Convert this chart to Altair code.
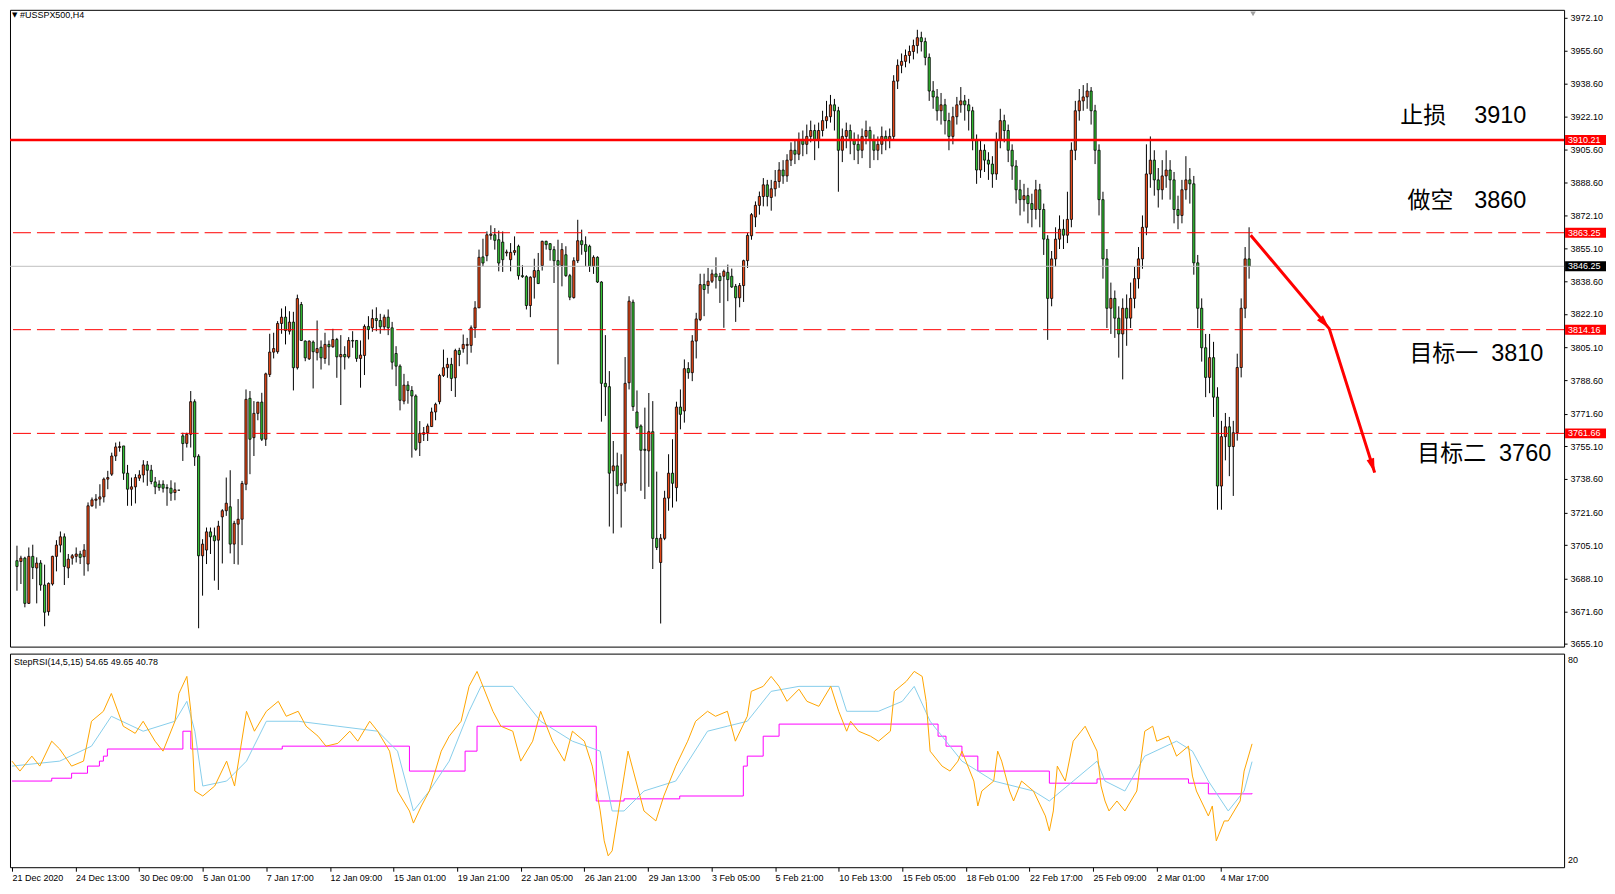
import math
import altair as alt
import pandas as pd

symbol_title = "#USSPX500,H4"
indicator_title = "StepRSI(14,5,15) 54.65 49.65 40.78"

# ---------------- candles (H4 bars, index 0 = 21 Dec 2020) ----------------
opens_a = [3697.2,3696.8,3698.5,3675.6,3699.4,3693.5,3696.0,3684.9,3671.4,3685.4,
3699.4,3705.1,3709.3,3693.5,3698.5,3699.4,3700.6,3699.2,3695.5,3725.0,
3727.8,3728.4,3729.5,3738.5,3741.0,3750.2,3754.5,3755.3,3741.5,3733.4,
3734.6,3739.0,3740.6,3745.7,3743.0,3737.1,3735.9,3735.9,3734.2,3733.9,
3731.7,3732.9,3760.4,3756.6,3761.2,3777.7,3750.1,3699.7,3702.6,3711.8,
3709.8,3707.6,3719.4,3722.5,3724.5,3705.6,3715.7,3718.2,3735.9,3779.4,
3759.5,3771.8,3777.5,3758.7,3791.5,3802.8,3803.0,3817.3,3820.5,3813.4,
3818.0,3794.9,3826.9,3808.4,3799.4,3807.9,3802.5,3805.3,3799.6,3806.7,
3805.5,3809.2,3800.4,3801.6,3800.4,3808.7,3808.7,3799.6,3801.1,3815.8,
3815.1,3819.8,3818.8,3815.6,3820.5,3815.1,3802.1,3795.7,3778.0,3786.1,
3783.4,3780.6,3757.0,3761.2,3762.0,3765.1,3772.5,3777.7,3791.0,3794.9,
3796.6,3789.8,3803.6,3804.5,3806.2,3806.2,3815.1,3825.2,3851.0,3851.6,
3861.9,3862.2,3859.7,3858.5,3853.0,3849.6,3853.3,3856.4,3841.5,3841.0,
3826.4,3840.7,3844.1,3846.6,3858.9,3857.7,3854.7,3849.1,3846.6,3852.1,
3841.5,3830.4,3849.1,3859.2,3857.2,3856.4,3846.3,3850.8,3838.3,3787.0,
3785.3,3742.7,3745.2,3735.4,3736.4,3787.3,3828.1,3772.5,3765.4,3753.6,
3752.8,3762.5,3708.5,3696.3,3708.5,3728.9,3741.5,3734.2,3775.0,3773.0,
3794.5,3792.4,3808.4,3819.3,3837.0,3836.5,3838.7,3842.4,3841.2,3841.2,
3843.2,3841.2,3836.1,3830.3,3836.5,3849.1,3861.7,3871.2,3877.1,3881.6,
3887.5,3881.1,3885.5]
closes_a = [3694.3,3698.5,3675.6,3699.4,3693.8,3696.0,3684.9,3671.1,3685.7,3699.4,
3705.1,3709.3,3694.3,3698.0,3699.7,3700.6,3698.9,3702.6,3725.0,3728.0,
3728.4,3729.5,3738.5,3739.3,3750.2,3754.8,3755.0,3741.5,3733.4,3734.6,
3739.3,3740.6,3745.7,3743.0,3737.3,3734.6,3734.2,3733.9,3733.9,3731.4,
3733.1,3732.9,3756.5,3761.2,3777.7,3749.7,3699.7,3705.6,3711.8,3709.3,
3707.3,3714.7,3722.5,3726.3,3705.6,3716.1,3718.2,3736.3,3778.9,3758.7,
3771.8,3777.5,3758.7,3791.8,3802.8,3804.6,3817.3,3820.5,3813.7,3818.0,
3794.9,3829.9,3808.7,3799.9,3808.4,3803.0,3804.6,3799.9,3806.7,3805.5,
3809.2,3800.4,3801.6,3800.4,3808.7,3808.4,3799.6,3801.3,3815.8,3814.2,
3819.8,3818.8,3815.6,3820.5,3815.1,3797.7,3795.7,3778.4,3786.1,3783.4,
3780.6,3753.6,3761.7,3762.0,3765.4,3772.5,3776.4,3791.0,3794.9,3796.6,
3789.5,3803.6,3801.6,3806.7,3806.7,3815.1,3825.2,3850.8,3847.9,3862.2,
3862.6,3859.4,3847.9,3849.6,3853.5,3853.3,3854.2,3841.5,3841.0,3826.4,
3840.7,3844.1,3837.5,3858.9,3857.2,3854.7,3849.1,3846.8,3854.7,3841.5,
3830.6,3849.1,3859.2,3857.2,3853.8,3846.3,3850.8,3838.3,3787.0,3785.3,
3741.5,3745.2,3735.1,3736.4,3787.0,3828.6,3775.2,3764.6,3753.1,3753.1,
3762.5,3708.5,3703.9,3708.6,3728.9,3741.5,3736.4,3775.0,3771.3,3794.4,
3792.4,3808.4,3819.6,3837.0,3834.5,3838.7,3842.4,3840.9,3839.0,3843.7,
3839.5,3835.8,3830.3,3836.5,3849.1,3861.9,3872.4,3877.1,3881.6,3887.5,
3881.6,3885.5,3889.2]
highs_a = [3704.8,3699.7,3699.2,3703.9,3705.3,3698.9,3697.5,3695.2,3686.2,3699.7,
3707.6,3712.0,3711.0,3700.6,3700.6,3703.9,3702.2,3705.6,3726.7,3729.2,
3730.9,3735.9,3739.3,3742.7,3751.9,3757.0,3757.5,3755.3,3745.7,3739.3,
3741.0,3743.0,3748.1,3747.7,3745.7,3739.6,3737.9,3737.9,3735.9,3737.9,
3736.8,3732.9,3762.0,3762.0,3783.1,3778.9,3751.1,3708.1,3714.0,3714.0,
3714.0,3717.4,3723.3,3739.3,3743.0,3717.4,3728.4,3737.6,3783.9,3783.1,
3778.0,3777.5,3782.2,3792.4,3812.1,3812.6,3818.5,3824.9,3826.0,3823.5,
3823.2,3831.9,3828.2,3808.7,3808.7,3808.7,3818.8,3808.7,3812.6,3808.7,
3814.6,3810.0,3811.4,3805.8,3810.4,3813.4,3808.7,3808.7,3816.8,3821.0,
3824.4,3825.5,3822.2,3821.8,3824.4,3818.1,3805.8,3796.6,3791.8,3788.1,
3785.6,3781.4,3767.9,3764.9,3766.6,3774.7,3777.2,3791.8,3804.1,3799.9,
3799.9,3804.5,3805.0,3811.7,3810.0,3816.3,3828.6,3854.7,3860.2,3863.9,
3867.0,3865.6,3864.3,3863.9,3854.7,3858.0,3861.4,3857.2,3846.8,3841.7,
3841.2,3850.1,3853.0,3859.2,3859.2,3858.0,3856.4,3859.7,3858.0,3856.4,
3842.4,3850.8,3869.8,3864.8,3861.4,3857.2,3851.8,3851.3,3838.7,3811.4,
3793.2,3757.8,3751.9,3751.1,3800.3,3831.1,3829.4,3783.4,3766.2,3774.7,
3782.1,3778.0,3742.3,3710.7,3732.6,3751.1,3758.7,3777.7,3783.9,3799.1,
3797.7,3811.4,3822.7,3842.5,3842.5,3845.4,3844.6,3850.8,3842.9,3844.6,
3847.1,3845.1,3837.3,3837.8,3849.6,3863.1,3873.2,3879.1,3884.1,3890.9,
3890.0,3890.0,3895.0]
lows_a = [3682.0,3685.4,3673.6,3675.3,3687.9,3675.6,3682.0,3664.0,3669.4,3684.6,
3691.8,3701.4,3684.9,3688.4,3695.2,3696.3,3695.5,3689.6,3691.8,3724.5,
3723.6,3725.0,3726.7,3733.4,3740.1,3747.7,3752.4,3738.1,3725.0,3725.0,
3726.2,3737.6,3736.8,3735.1,3735.9,3730.9,3732.6,3731.7,3725.0,3727.5,
3727.8,3732.9,3747.7,3754.5,3754.5,3745.2,3663.0,3679.5,3695.5,3700.6,
3687.1,3682.4,3695.8,3719.9,3700.9,3695.5,3695.2,3705.1,3732.9,3741.0,
3750.2,3768.3,3757.8,3755.3,3790.2,3799.6,3802.0,3812.1,3806.7,3811.7,
3783.4,3794.0,3808.4,3798.2,3798.8,3784.4,3798.6,3794.0,3796.9,3796.1,
3805.0,3789.8,3776.0,3794.0,3799.6,3805.0,3797.9,3784.8,3791.2,3809.2,
3813.1,3813.4,3812.1,3813.9,3811.4,3794.0,3785.6,3773.3,3776.4,3776.7,
3749.4,3752.8,3750.2,3757.8,3757.8,3764.9,3768.3,3776.4,3790.2,3789.8,
3783.1,3780.1,3795.7,3802.5,3796.6,3802.5,3810.0,3825.2,3846.3,3848.8,
3859.7,3854.7,3843.7,3843.4,3851.3,3843.7,3851.8,3839.5,3840.4,3824.4,
3820.5,3829.9,3837.3,3844.1,3854.7,3849.1,3837.8,3796.6,3836.1,3840.9,
3829.1,3829.9,3847.9,3852.1,3846.3,3843.4,3842.4,3837.8,3767.6,3770.5,
3714.5,3711.0,3730.9,3714.0,3732.2,3783.9,3773.0,3763.7,3732.6,3728.4,
3734.6,3693.0,3702.6,3665.4,3707.6,3722.5,3724.1,3727.2,3763.7,3767.1,
3789.3,3788.1,3799.6,3818.5,3821.0,3832.4,3837.8,3835.0,3827.7,3815.1,
3828.6,3835.3,3818.1,3825.5,3828.2,3845.4,3859.7,3866.1,3872.4,3876.6,
3876.6,3874.4,3881.6]

# bars 193..312 (5 Feb 21:00 .. 5 Mar)
closes_b = [3895,3892,3900,3905,3903,3910,3908,3912,3915,3910,
3915,3920,3922,3928,3925,3905,3912,3915,3910,3908,
3905,3912,3915,3910,3905,3908,3912,3910,3912,3940,
3948,3950,3953,3955,3958,3962,3960,3952,3935,3932,
3925,3928,3920,3912,3922,3928,3930,3928,3925,3910,
3895,3905,3900,3898,3893,3910,3920,3915,3905,3897,
3885,3880,3882,3878,3875,3885,3875,3860,3830,3850,
3860,3865,3862,3870,3905,3925,3930,3932,3935,3925,
3905,3880,3850,3825,3830,3820,3812,3825,3820,3830,
3840,3850,3866,3893,3900,3890,3885,3892,3895,3890,
3875,3872,3885,3890,3888,3848,3825,3805,3790,3800,
3780,3735,3760,3765,3755,3762,3795,3825,3850,3846.25]
highs_b = [3899,3900,3903,3909,3910,3914,3915,3918,3920,3918,
3919,3925,3930,3933,3931,3927,3916,3919,3918,3914,
3913,3916,3920,3917,3913,3912,3917,3915,3916,3943,
3951,3954,3956,3958,3961,3966,3965,3962,3954,3940,
3936,3934,3931,3924,3927,3932,3937,3933,3931,3927,
3913,3910,3908,3904,3902,3914,3926,3923,3918,3908,
3900,3890,3888,3886,3883,3890,3888,3878,3862,3854,
3866,3872,3870,3884,3909,3930,3936,3938,3939,3937,
3928,3908,3884,3855,3838,3834,3826,3830,3832,3838,
3846,3856,3872,3908,3912,3905,3896,3900,3905,3900,
3894,3882,3890,3902,3896,3892,3852,3830,3812,3812,
3808,3785,3768,3772,3770,3768,3802,3830,3856,3866]
lows_b = [3886,3888,3889,3897,3898,3900,3902,3903,3909,3900,
3906,3912,3916,3919,3915,3884,3899,3906,3903,3900,
3898,3901,3908,3896,3900,3900,3903,3905,3906,3910,
3936,3944,3947,3949,3951,3954,3955,3948,3930,3926,
3920,3918,3913,3905,3908,3918,3924,3920,3915,3905,
3888,3891,3894,3890,3886,3890,3906,3909,3899,3890,
3878,3872,3874,3868,3866,3870,3866,3852,3809,3826,
3846,3855,3855,3858,3866,3900,3920,3925,3926,3918,
3898,3872,3840,3815,3812,3810,3800,3789,3806,3815,
3825,3835,3845,3862,3886,3882,3876,3880,3886,3880,
3868,3865,3868,3880,3878,3842,3815,3798,3780,3782,
3770,3723,3723,3748,3740,3730,3758,3790,3820,3840]

opens_b = [closes_a[-1]] + closes_b[:-1]

opens = opens_a + opens_b
closes = closes_a + closes_b
highs = highs_a + highs_b
lows = lows_a + lows_b

# ---------------- axis / levels ----------------
x_labels = ["21 Dec 2020", "24 Dec 13:00", "30 Dec 09:00", "5 Jan 01:00", "7 Jan 17:00",
            "12 Jan 09:00", "15 Jan 01:00", "19 Jan 21:00", "22 Jan 05:00", "26 Jan 21:00",
            "29 Jan 13:00", "3 Feb 05:00", "5 Feb 21:00", "10 Feb 13:00", "15 Feb 05:00",
            "18 Feb 01:00", "22 Feb 17:00", "25 Feb 09:00", "2 Mar 01:00", "4 Mar 17:00"]
x_label_bars = [0, 16, 32, 48, 64, 80, 96, 112, 128, 144, 160, 176, 192, 208, 224, 240, 256, 272, 288, 304]
price_ticks = [3972.10, 3955.60, 3938.60, 3922.10, 3905.60, 3888.60, 3872.10, 3855.10, 3838.60,
               3822.10, 3805.10, 3788.60, 3771.60, 3755.10, 3738.60, 3721.60, 3705.10, 3688.10,
               3671.60, 3655.10]

stop_price = 3910.21
dash_prices = [3863.25, 3814.16, 3761.66]
last_price = 3846.25
box_prices = [3910.21, 3863.25, 3846.25, 3814.16, 3761.66]
box_colors = ["#FF0000", "#FF0000", "#000000", "#FF0000", "#FF0000"]

ann_cn = ["止损", "做空", "目标一", "目标二"]
ann_num = ["3910", "3860", "3810", "3760"]
ann_y = [3922.1, 3879.1, 3801.8, 3751.3]
ann_cn_x = [350.3, 352.1, 352.6, 354.6]
ann_num_x = [369.0, 369.0, 373.3, 375.3]

arrow_bars = [312.4, 332.3, 343.8]
arrow_prices = [3862.0, 3814.7, 3741.8]

# ---------------- StepRSI ----------------
orange_bars = [0,2,5,7,10,12,15,18,20,23,25,28,31,33,36,38,41,42,44,45,46,48,51,54,56,59,61,64,67,69,72,74,77,79,82,85,87,90,92,95,97,100,101,103,105,108,110,113,115,117,118,121,123,126,128,131,133,136,139,141,144,146,148,149,150,151,154,155,157,159,162,164,167,170,172,175,177,180,182,185,186,189,191,193,195,198,200,203,206,208,210,211,213,216,218,221,222,225,227,229,230,231,234,236,238,239,242,243,244,247,248,249,251,252,254,257,260,261,262,263,265,267,269,270,273,274,275,276,278,280,283,285,287,288,291,293,296,297,298,301,302,303,305,306,309,310,312]
orange_vals = [49.8,47.0,51.2,48.4,55.4,53.2,48.4,49.8,61.0,63.8,68.8,59.6,57.6,61.0,55.4,52.6,61.0,68.8,73.6,63.8,41.4,40.0,42.8,49.8,42.8,63.8,58.2,63.8,66.6,62.4,63.8,59.6,56.8,54.0,54.8,58.2,55.4,61.0,58.2,52.6,41.4,35.8,32.4,37.2,41.4,52.6,56.8,61.0,70.8,75.0,72.2,63.8,59.6,58.2,49.8,55.4,63.8,55.4,49.8,58.2,55.4,48.4,35.8,27.4,23.2,24.6,45.6,52.6,44.2,35.8,33.0,40.0,48.4,55.4,61.0,63.8,62.4,63.8,55.4,62.4,69.4,70.8,73.6,70.8,66.6,70.0,66.6,65.2,70.8,63.8,58.2,61.0,58.2,56.8,55.4,58.2,69.4,72.2,75.0,73.6,66.6,52.6,48.4,47.0,49.8,52.6,44.2,37.2,41.4,44.2,52.6,49.8,41.4,38.6,44.2,41.4,34.4,30.2,35.8,48.4,44.2,55.4,58.2,59.6,52.6,42.8,38.6,35.8,38.6,35.8,41.4,58.2,59.6,55.4,56.8,51.2,54.0,45.6,41.4,34.4,37.2,27.4,33.0,33.0,38.6,47.0,54.65]
blue_bars = [0,12,20,25,33,41,44,46,48,54,59,64,72,82,92,97,101,105,110,115,118,126,133,141,148,151,154,159,167,175,180,185,191,198,208,210,218,224,227,231,239,247,257,261,267,273,275,280,285,293,297,301,306,310,312]
blue_vals = [48.4,49.8,54.0,62.4,58.2,61.0,66.6,58.2,42.8,44.2,49.8,61.0,61.0,59.6,58.2,52.6,35.8,41.4,49.8,63.8,70.8,70.8,61.0,55.4,52.6,35.8,35.8,41.4,44.2,58.2,59.6,61.0,69.4,70.8,70.8,63.8,63.8,66.6,70.8,61.0,49.8,44.2,41.4,38.6,44.2,49.8,44.2,41.4,51.2,55.4,52.6,44.2,35.8,41.4,49.65]
mag_bars = [0,10,15,19,22,23,24,43,45,68,100,114,117,147,154,168,184,185,189,193,233,235,239,243,261,273,296,301,312]
mag_vals = [44.2,45.0,46.4,48.4,49.8,51.2,53.2,58.2,53.2,54.0,47.0,52.6,59.6,38.6,39.2,40.0,48.4,51.2,56.8,60.2,56.8,54.0,51.2,47.0,43.6,44.8,43.6,40.6,40.78]

# ---------------- build chart ----------------
W, H1, H2 = 1557, 638, 214
XDOM = [-0.5, 390.5]
YDOM = [3653.7, 3976.1]
FONT = "Liberation Sans"
xs = alt.Scale(domain=XDOM, nice=False, zero=False)
ys = alt.Scale(domain=YDOM, nice=False, zero=False)

n = len(closes)
cdf = pd.DataFrame({"bar": list(range(n)), "open": opens, "high": highs, "low": lows, "close": closes})
cdf["dir"] = ["up" if c > o else "down" for o, c in zip(opens, closes)]

yaxis = alt.Axis(orient="right", values=price_ticks, tickCount=len(price_ticks) * 3, format=".2f",
                 grid=False, domain=False, tickSize=3, tickColor="black", labelFont=FONT,
                 labelFontSize=9, labelColor="black", labelPadding=3, title=None, labelOverlap=False)
X = alt.X("bar:Q", scale=xs, axis=None, title=None)

wicks = alt.Chart(cdf).mark_rule(color="black", strokeWidth=1).encode(
    x=X, y=alt.Y("low:Q", scale=ys, axis=yaxis, title=None), y2="high:Q")
bodies = alt.Chart(cdf).mark_bar(width=2.2, stroke="black", strokeWidth=0.8).encode(
    x=X, y=alt.Y("open:Q", scale=ys, title=None), y2="close:Q",
    color=alt.Color("dir:N", scale=alt.Scale(domain=["up", "down"], range=["#EE4A18", "#34C234"]), legend=None))

stop_rule = alt.Chart(pd.DataFrame({"p": [stop_price]})).mark_rule(color="#FF0000", strokeWidth=2.6).encode(
    y=alt.Y("p:Q", scale=ys, title=None))
dash_rules = alt.Chart(pd.DataFrame({"p": dash_prices})).mark_rule(color="#FF0000", strokeWidth=1, strokeDash=[18, 6]).encode(
    y=alt.Y("p:Q", scale=ys, title=None))
last_rule = alt.Chart(pd.DataFrame({"p": [last_price]})).mark_rule(color="#C0C0C0", strokeWidth=1).encode(
    y=alt.Y("p:Q", scale=ys, title=None))

bdf = pd.DataFrame({"p": box_prices, "bg": box_colors, "label": [f"{v:.2f}" for v in box_prices]})
boxes = alt.Chart(bdf).mark_tick(orient="horizontal", thickness=10, size=41, clip=False, opacity=1).encode(
    x=alt.value(W + 21.5), y=alt.Y("p:Q", scale=ys, title=None), color=alt.Color("bg:N", scale=None))
box_text = alt.Chart(bdf).mark_text(align="left", baseline="middle", color="white", font=FONT,
                                    fontSize=9, clip=False).encode(
    x=alt.value(W + 4), y=alt.Y("p:Q", scale=ys, title=None), text="label:N")

adf = pd.DataFrame({"cn": ann_cn, "num": ann_num, "p": ann_y, "xc": ann_cn_x, "xn": ann_num_x})
ann_cn_mark = alt.Chart(adf).mark_text(align="left", baseline="middle", font="Noto Sans CJK SC",
                                       fontSize=23, color="black").encode(
    x=alt.X("xc:Q", scale=xs, axis=None), y=alt.Y("p:Q", scale=ys, title=None), text="cn:N")
ann_num_mark = alt.Chart(adf).mark_text(align="left", baseline="middle", font=FONT,
                                        fontSize=23.5, color="black").encode(
    x=alt.X("xn:Q", scale=xs, axis=None), y=alt.Y("p:Q", scale=ys, title=None), text="num:N")

ardf = pd.DataFrame({"bar": arrow_bars, "p": arrow_prices, "o": list(range(len(arrow_bars)))})
arrow_line = alt.Chart(ardf).mark_line(color="#FF0000", strokeWidth=3).encode(
    x=alt.X("bar:Q", scale=xs, axis=None), y=alt.Y("p:Q", scale=ys, title=None), order="o:O")
px_per_bar = W / (XDOM[1] - XDOM[0])
px_per_pt = H1 / (YDOM[1] - YDOM[0])
heads = []
for i in range(1, len(arrow_bars)):
    dx = (arrow_bars[i] - arrow_bars[i - 1]) * px_per_bar
    dy = -(arrow_prices[i] - arrow_prices[i - 1]) * px_per_pt
    ang = math.degrees(math.atan2(dx, -dy)) % 360
    heads.append({"bar": arrow_bars[i], "p": arrow_prices[i], "ang": ang})
hdf = pd.DataFrame(heads)
arrow_heads = alt.Chart(hdf).mark_point(shape="M0,0 L0.6,2.2 L-0.6,2.2 Z", filled=True, color="#FF0000",
                                        size=170, opacity=1).encode(
    x=alt.X("bar:Q", scale=xs, axis=None), y=alt.Y("p:Q", scale=ys, title=None),
    angle=alt.Angle("ang:Q", scale=None))

title_tri = alt.Chart(pd.DataFrame({"t": ["▼"]})).mark_text(align="left", baseline="middle", fontSize=7,
                                                          color="black", font="DejaVu Sans").encode(
    x=alt.value(2), y=alt.value(5), text="t:N")
title_txt = alt.Chart(pd.DataFrame({"t": [symbol_title]})).mark_text(align="left", baseline="middle", fontSize=9,
                                                                   color="black", font=FONT).encode(
    x=alt.value(10), y=alt.value(5), text="t:N")
shift_mark = alt.Chart(pd.DataFrame({"bar": [313]})).mark_point(shape="triangle-down", filled=True,
                                                               color="#A0A0A0", size=30, opacity=1).encode(
    x=alt.X("bar:Q", scale=xs, axis=None), y=alt.value(4))

main = alt.layer(wicks, bodies, last_rule, dash_rules, stop_rule, arrow_line, arrow_heads,
                 ann_cn_mark, ann_num_mark, boxes, box_text, title_tri, title_txt,
                 shift_mark).properties(width=W, height=H1)

# ---- RSI panel ----
rys = alt.Scale(domain=[20, 80], nice=False, zero=False)
label_expr = "[" + ",".join('"' + s + '"' for s in x_labels) + "][round(datum.value/16)]"
xaxis = alt.Axis(values=x_label_bars, tickCount=len(x_label_bars) * 3, labelExpr=label_expr,
                 labelAlign="left", labelPadding=2, tickSize=4, tickColor="black", domain=False,
                 grid=False, labelFont=FONT, labelFontSize=9, labelColor="black", title=None,
                 labelFlush=False, labelOverlap=False, labelBound=False)

odf = pd.DataFrame({"bar": orange_bars, "v": orange_vals})
bldf = pd.DataFrame({"bar": blue_bars, "v": blue_vals})
mdf = pd.DataFrame({"bar": mag_bars, "v": mag_vals})

mag_line = alt.Chart(mdf).mark_line(color="#FF00FF", strokeWidth=1, interpolate="step-after").encode(
    x=alt.X("bar:Q", scale=xs, axis=xaxis, title=None), y=alt.Y("v:Q", scale=rys, axis=None))
blue_line = alt.Chart(bldf).mark_line(color="#87CEEB", strokeWidth=1).encode(
    x=alt.X("bar:Q", scale=xs, title=None), y=alt.Y("v:Q", scale=rys, axis=None))
orange_line = alt.Chart(odf).mark_line(color="#FFA500", strokeWidth=1).encode(
    x=alt.X("bar:Q", scale=xs, title=None), y=alt.Y("v:Q", scale=rys, axis=None))

lvl_top = alt.Chart(pd.DataFrame({"v": [80], "t": ["80"]})).mark_text(
    align="left", baseline="top", font=FONT, fontSize=9, color="black", clip=False, dy=2).encode(
    x=alt.value(W + 4), y=alt.Y("v:Q", scale=rys, axis=None), text="t:N")
lvl_bot = alt.Chart(pd.DataFrame({"v": [20], "t": ["20"]})).mark_text(
    align="left", baseline="bottom", font=FONT, fontSize=9, color="black", clip=False, dy=-2).encode(
    x=alt.value(W + 4), y=alt.Y("v:Q", scale=rys, axis=None), text="t:N")
ind_txt = alt.Chart(pd.DataFrame({"t": [indicator_title]})).mark_text(
    align="left", baseline="middle", font=FONT, fontSize=9, color="black").encode(
    x=alt.value(4), y=alt.value(8), text="t:N")

rsi = alt.layer(mag_line, blue_line, orange_line, lvl_top, lvl_bot, ind_txt).properties(width=W, height=H2)

chart = (alt.vconcat(main, rsi, spacing=3)
         .properties(padding=0, background="white")
         .configure_view(stroke="black", strokeWidth=1)
         .configure_axis(labelOverlap=False))

chart.save("out.html", embed_options={"renderer": "svg", "actions": False})
